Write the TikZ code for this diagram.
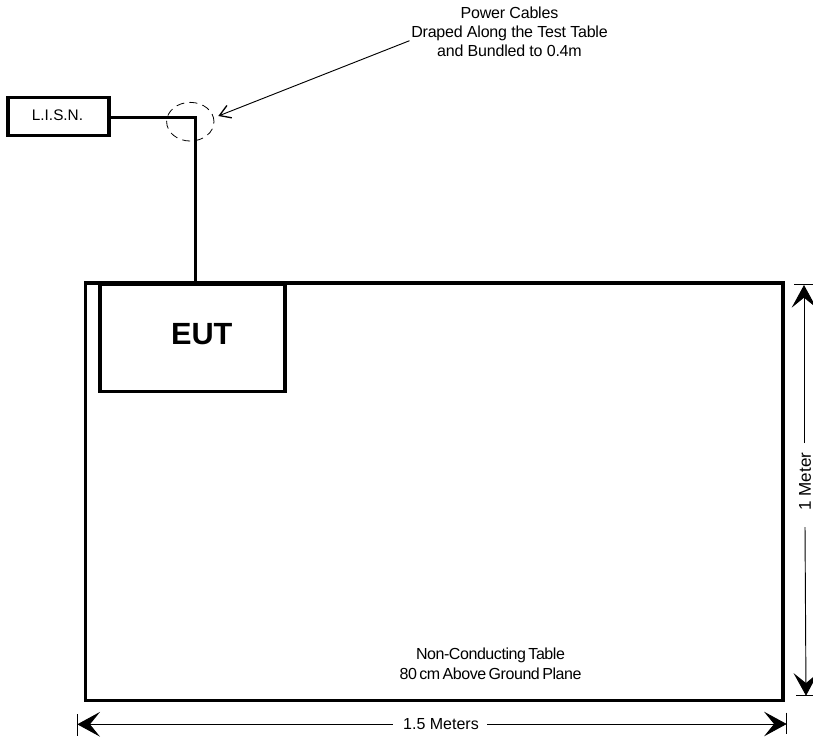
\documentclass[tikz,border=0pt]{standalone}
\usepackage{fontspec}
\setmainfont{Liberation Sans}
\newfontfamily\tablefont[LetterSpace=-2.7,WordSpace=0.6]{Liberation Sans}
\newfontfamily\powerfont[LetterSpace=-1.3]{Liberation Sans}
\usetikzlibrary{arrows.meta,shapes.geometric}
\tikzset{
  px/.style={x=0.75pt,y=-0.75pt},
  thickbox/.style={draw=black,line width=2.6pt,inner sep=0pt,outer sep=0pt,rectangle,anchor=north west},
  wire/.style={draw=black,line width=2.6pt,line join=miter},
  thinline/.style={draw=black,line width=0.7pt},
  tickline/.style={draw=black,line width=0.6pt},
  dimtip/.style={-{Stealth[length=17pt,width=18.5pt,inset=7.5pt]}},
  opentip/.style={-{Straight Barb[length=8pt,width=10pt,line width=1pt]}},
  dashcircle/.style={draw=black,ellipse,line width=0.6pt,dash pattern=on 6pt off 4pt,inner sep=0pt,outer sep=0pt},
  tablelbl/.style={font=\tablefont\fontsize{12pt}{15pt}\selectfont,align=center,inner sep=0pt},
  powerlbl/.style={font=\powerfont\fontsize{12pt}{14.3pt}\selectfont,align=center,inner sep=0pt},
  lisnlbl/.style={font=\fontsize{11.5pt}{14pt}\selectfont,inner sep=0pt},
  dimlbl/.style={font=\fontsize{12pt}{15pt}\selectfont,inner sep=0pt},
  vdimlbl/.style={font=\fontsize{12.8pt}{15pt}\selectfont,inner sep=0pt,rotate=90},
  eutlbl/.style={font=\bfseries\fontsize{23pt}{26pt}\selectfont,inner sep=0pt},
}
\begin{document}
\begin{tikzpicture}[px]
\useasboundingbox (0,0) rectangle (813,740);
% boxes (sizes: 1px = 0.75pt)
\node[thickbox,minimum width=523.1pt,minimum height=313.1pt] (table) at (85.7,283) {};
\node[thickbox,minimum width=138.75pt,minimum height=80.6pt] (eut) at (100,284) {};
\node[thickbox,minimum width=75.75pt,minimum height=28.5pt] (lisn) at (8,97.7) {};
\node[eutlbl] (euttext) at (201.8,333.7) {EUT};
\node[lisnlbl] (lisntext) at (57.5,115) {L.I.S.N.};
\node[tablelbl] (tabletext) at (490.5,664) {Non-Conducting Table\\80 cm Above Ground Plane};
\node[powerlbl] (powertext) at (509.5,31.5) {Power Cables\\Draped Along the Test Table\\and Bundled to 0.4m};
% power cable
\coordinate (corner) at (195.7,117.7);
\draw[wire] (lisn.east |- corner) -- (corner) -- (corner |- table.north);
% bundle marker
\node[dashcircle,minimum width=35.5pt,minimum height=29pt] (bundle) at (190.3,121.7) {};
\coordinate (pointerstart) at (409.5,40.7);
\coordinate (pointertip) at (218.3,116);
\draw[thinline,opentip] (pointerstart) -- (pointertip);
% 1.5 Meters dimension
\node[dimlbl] (wlabel) at (441,724) {1.5 Meters};
\coordinate (wleft) at (77.3,724.3);
\coordinate (wright) at (786.7,724);
\coordinate (wgapl) at (392.7,724.3);
\coordinate (wgapr) at (487,724);
\draw[thinline,dimtip] (wgapl) -- (wleft);
\draw[thinline,dimtip] (wgapr) -- (wright);
\coordinate (wlt) at (77.3,714);
\coordinate (wlb) at (77.3,735.7);
\coordinate (wrt) at (786.7,712.7);
\coordinate (wrb) at (786.7,734);
\draw[tickline] (wlt) -- (wlb);
\draw[tickline] (wrt) -- (wrb);
% 1 Meter dimension
\node[vdimlbl] (hlabel) at (805,481.5) {1 Meter};
\coordinate (htop) at (804,285);
\coordinate (hbot) at (806,695.7);
\coordinate (hgapt) at (804,443);
\coordinate (hgapb) at (805,527);
\draw[thinline,dimtip] (hgapt) -- (htop);
\draw[thinline,dimtip] (hgapb) -- (hbot);
\coordinate (htl) at (794,284.3);
\coordinate (htr) at (813,284.3);
\coordinate (hbl) at (796,695.7);
\coordinate (hbr) at (813,695.7);
\draw[tickline] (htl) -- (htr);
\draw[tickline] (hbl) -- (hbr);
\end{tikzpicture}
\end{document}
